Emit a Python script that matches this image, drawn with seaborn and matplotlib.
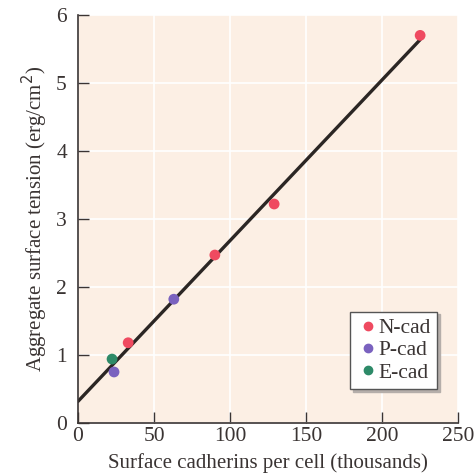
import numpy as np
import pandas as pd
import seaborn as sns
import matplotlib.pyplot as plt

sns.set_style("white")
plt.rcParams['font.family'] = ['Liberation Serif', 'DejaVu Serif']

# data
cadherin = [225, 129, 90, 33, 63, 23.7, 22.4]
tension = [5.70, 3.22, 2.47, 1.18, 1.82, 0.75, 0.94]
cell_type = ["N-cad", "N-cad", "N-cad", "N-cad", "P-cad", "P-cad", "E-cad"]

df = pd.DataFrame({"x": cadherin, "y": tension, "type": cell_type})
palette = {"N-cad": "#ef4a60", "P-cad": "#7a62bf", "E-cad": "#2d8a68"}
ink = "#3a3433"

fig = plt.figure(figsize=(4.77, 4.75), dpi=100)
ax = fig.add_axes([0.1635, 0.1095, 0.797, 0.859])
ax.set_facecolor("#fcefe4")

# fitted line from origin to last point
slope, icpt = np.polyfit(df.x, df.y, 1)
xs = np.array([0, df.x.max()])
ax.plot(xs, icpt + slope * xs, color="#2b2624", lw=2.4, zorder=2)

sns.scatterplot(data=df, x="x", y="y", hue="type", palette=palette,
                s=60, edgecolor="none", ax=ax, zorder=3, legend=False)

ax.set_xlim(0, 250)
ax.set_ylim(0, 6)
ax.set_xticks([0, 50, 100, 150, 200, 250])
ax.set_yticks(range(7))
ax.grid(True, color="white", lw=1.2)
ax.set_axisbelow(True)
for s in ["top", "right"]:
    ax.spines[s].set_visible(False)
for s in ["left", "bottom"]:
    ax.spines[s].set_color(ink)
    ax.spines[s].set_linewidth(1.2)
ax.tick_params(direction="in", length=8, width=1, color=ink, labelsize=15.5,
               labelcolor=ink, left=True, bottom=True)
ax.tick_params(axis="y", pad=8)
ax.tick_params(axis="x", pad=3)
ax.set_xlabel("Surface cadherins per cell (thousands)", fontsize=15, color=ink, labelpad=5)
ax.set_ylabel("Aggregate surface tension (erg/cm$^2$)", fontsize=15, color=ink, labelpad=4)

# legend box with shadow
handles = [plt.Line2D([], [], marker="o", ls="", color=palette[k], markersize=6) for k in palette]
leg = ax.legend(handles, list(palette), loc="lower right", bbox_to_anchor=(0.945, 0.083),
                fontsize=15.5, frameon=True, fancybox=False, shadow={"color": "#b5aeaa", "alpha": 1},
                handletextpad=0.0, borderpad=0.3, labelspacing=0.1, handlelength=1.0,
                borderaxespad=0)
leg.get_frame().set_edgecolor("#555555")
leg.get_frame().set_linewidth(1)
for t in leg.get_texts():
    t.set_color(ink)

fig.savefig("out.png", dpi=100)
